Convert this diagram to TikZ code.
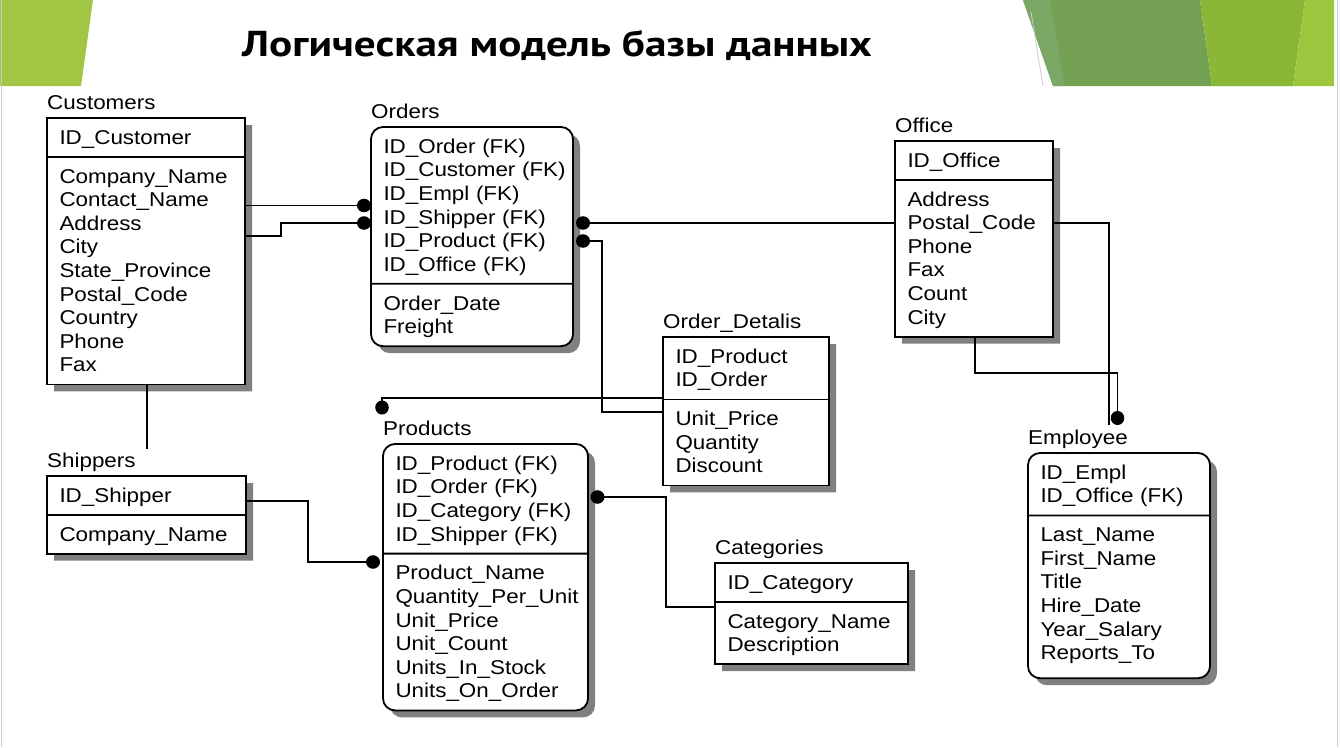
\documentclass[tikz,border=0pt]{standalone}
\usepackage{fontspec}
\setmainfont{Liberation Sans}
\newfontfamily\erfont[FakeStretch=1.12]{Liberation Sans}
\newfontfamily\titlefont[FakeStretch=1.2]{PT Sans}
\usetikzlibrary{arrows.meta,calc,positioning,shapes.multipart,shadows}
\definecolor{LeafGreen}{RGB}{161,198,68}
\definecolor{MossGreen}{RGB}{115,160,83}
\definecolor{MossLight}{RGB}{124,168,102}
\definecolor{LimeGreen}{RGB}{138,183,54}
\definecolor{PaleLime}{RGB}{158,199,64}
\definecolor{FrameGray}{RGB}{205,205,205}
\newcommand\rs{\rule[-5pt]{0pt}{23.6pt}}

\begin{document}
\begin{tikzpicture}[x=1pt,y=-1pt,>=Latex,
    entity/.style={rectangle split, rectangle split parts=2, draw, fill=white,
      line width=1.8pt, inner xsep=12.5pt, inner ysep=6.7pt, outer sep=0pt,
      anchor=north west, align=left,
      font=\erfont\fontsize{20}{23.6}\selectfont,
      drop shadow={shadow xshift=7pt,shadow yshift=-7pt,fill=black!50,opacity=1}},
    depent/.style={entity, rounded corners=12pt},
    etitle/.style={anchor=base west, yshift=8.4pt, inner sep=0pt,
      font=\erfont\fontsize{20}{23.6}\selectfont},
    link/.style={line width=1.8pt},
    rel/.style={link, -{Circle[length=14pt,width=13.5pt]}}]
  \useasboundingbox (0,0) rectangle (1340,747);
  % slide decoration
  \fill[LeafGreen] (0,0)--(93,0)--(81,86)--(0,86)--cycle;
  \fill[MossGreen] (1023,0)--(1200,0)--(1212,86)--(1053,86)--cycle;
  \fill[MossLight] (1023,0)--(1050,0)--(1065,86)--(1053,86)--cycle;
  \fill[LimeGreen] (1200,0)--(1305,0)--(1293,86)--(1212,86)--cycle;
  \fill[PaleLime] (1305,0)--(1334,0)--(1334,86)--(1293,86)--cycle;
  \draw[FrameGray,line width=0.8pt] (1031,12)--(1043,86);
  \draw[FrameGray,line width=1pt] (1.5,0)--(1.5,747) (1337,0)--(1337,747);
  \node[anchor=base west,inner sep=0pt,font=\titlefont\bfseries\fontsize{36}{40}\selectfont] (ttl) at (242,56) {Логическая модель базы данных};

  % entities
  \node[entity, text width=173pt] (cust) at (47,118) {\rs ID\_Customer\nodepart{two}\rs Company\_Name\\\rs Contact\_Name\\\rs Address\\\rs City\\\rs State\_Province\\\rs Postal\_Code\\\rs Country\\\rs Phone\\\rs Fax};
  \node[depent, text width=177pt] (ord) at (371,127) {\rs ID\_Order~(FK)\\\rs ID\_Customer~(FK)\\\rs ID\_Empl~(FK)\\\rs ID\_Shipper~(FK)\\\rs ID\_Product~(FK)\\\rs ID\_Office~(FK)\nodepart{two}\rs Order\_Date\\\rs Freight};
  \node[entity, text width=133pt] (off) at (895,141) {\rs ID\_Office\nodepart{two}\rs Address\\\rs Postal\_Code\\\rs Phone\\\rs Fax\\\rs Count\\\rs City};
  \node[entity, text width=141pt] (od) at (663,337) {\rs ID\_Product\\\rs ID\_Order\nodepart{two}\rs Unit\_Price\\\rs Quantity\\\rs Discount};
  \node[depent, text width=157pt] (emp) at (1028,453) {\rs ID\_Empl\\\rs ID\_Office~(FK)\nodepart{two}\rs Last\_Name\\\rs First\_Name\\\rs Title\\\rs Hire\_Date\\\rs Year\_Salary\\\rs Reports\_To\rule[-11pt]{0pt}{0pt}};
  \node[entity, text width=174pt] (ship) at (47,476) {\rs ID\_Shipper\nodepart{two}\rs Company\_Name};
  \node[depent, text width=180pt] (prod) at (383,444) {\rs ID\_Product~(FK)\\\rs ID\_Order~(FK)\\\rs ID\_Category~(FK)\\\rs ID\_Shipper~(FK)\nodepart{two}\rs Product\_Name\\\rs Quantity\_Per\_Unit\\\rs Unit\_Price\\\rs Unit\_Count\\\rs Units\_In\_Stock\\\rs Units\_On\_Order};
  \node[entity, text width=168pt] (cat) at (715,563) {\rs ID\_Category\nodepart{two}\rs Category\_Name\\\rs Description};

  \node[etitle] (cust-t) at (cust.north west) {Customers};
  \node[etitle] (ord-t) at (ord.north west) {Orders};
  \node[etitle] (off-t) at (off.north west) {Office};
  \node[etitle] (od-t) at (od.north west) {Order\_Detalis};
  \node[etitle] (emp-t) at (emp.north west) {Employee};
  \node[etitle] (ship-t) at (ship.north west) {Shippers};
  \node[etitle] (prod-t) at (prod.north west) {Products};
  \node[etitle] (cat-t) at (cat.north west) {Categories};

  % relations
  \draw[rel] ($(cust.north east)+(0,87.5)$) -- ($(ord.north west)+(0,78.5)$);
  \draw[rel] ($(cust.north east)+(0,118)$) -- ++(36,0) |- ($(ord.north west)+(0,96)$);
  \draw[rel] ($(off.north west)+(0,82)$) -- ($(ord.north east)+(3,96)$);
  \draw[rel] ($(od.north west)+(0,75)$) -| ($(ord.north east)+(29,114)$) -- ++(-26,0);
  \draw[rel] ($(od.north west)+(0,61)$) -| ($(prod.north west)+(-1,-29.5)$);
  \draw[link] ($(off.north east)+(0,82)$) -| ($(emp.north west)+(81,-28)$);
  \draw[rel] ($(off.south west)+(80,0)$) -- ++(0,36) -| ($(emp.north west)+(89.5,-28)$);
  \draw[link] ($(cust.south west)+(100,0)$) -- ($(ship.north west)+(100,-27)$);
  \draw[rel] ($(ship.north east)+(0,25)$) -- ++(62,0) |- ($(prod.north west)+(-3,118)$);
  \draw[rel] ($(cat.north west)+(0,44)$) -| ($(prod.north east)+(78,53)$) -- ++(-75.5,0);
\end{tikzpicture}
\end{document}
